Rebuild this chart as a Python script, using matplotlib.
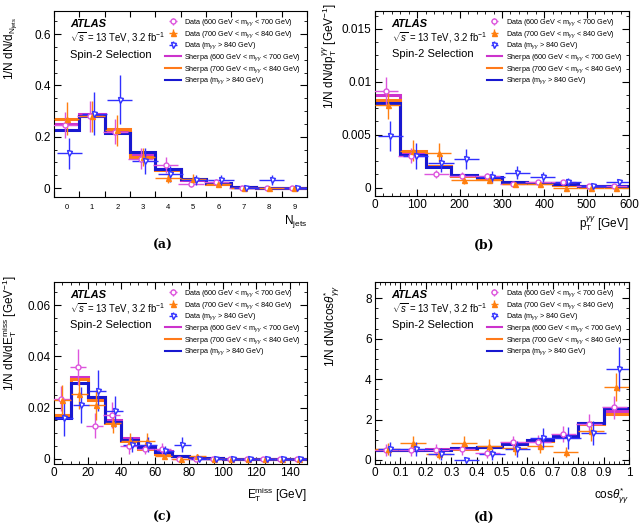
import numpy as np
import matplotlib
matplotlib.use("Agg")
import matplotlib.pyplot as plt
from matplotlib.lines import Line2D
from matplotlib.ticker import AutoMinorLocator, MultipleLocator, FixedLocator

plt.rcParams["font.family"] = ["Liberation Sans", "DejaVu Sans"]
plt.rcParams["mathtext.fontset"] = "custom"
plt.rcParams["mathtext.rm"] = "Liberation Sans"
plt.rcParams["mathtext.it"] = "Liberation Sans:italic"
plt.rcParams["mathtext.bf"] = "Liberation Sans:bold"

# ---- (a) N_jets ----
njets_edges = np.arange(-0.5, 10.0, 1.0)
njets_sherpa = {
    "m600": [0.25, 0.29, 0.22, 0.13, 0.075, 0.03, 0.015, 0.005, 0.002, 0.002],
    "m700": [0.27, 0.28, 0.23, 0.12, 0.07, 0.035, 0.015, 0.005, 0.002, 0.002],
    "m840": [0.225, 0.28, 0.215, 0.14, 0.075, 0.035, 0.02, 0.005, 0.002, 0.001],
}
njets_data = {
    "m600": [0.245, 0.28, 0.22, 0.115, 0.09, 0.015, 0.025, 0.0, 0.0, 0.0],
    "m700": [0.27, 0.28, 0.225, 0.12, 0.04, 0.035, 0.015, 0.0, 0.0, 0.0],
    "m840": [0.135, 0.29, 0.345, 0.105, 0.055, 0.03, 0.03, 0.0, 0.03, 0.0],
}
njets_err = {
    "m600": [0.05, 0.06, 0.05, 0.04, 0.03, 0.01, 0.01, 0.003, 0.003, 0.003],
    "m700": [0.065, 0.06, 0.06, 0.035, 0.02, 0.02, 0.01, 0.003, 0.003, 0.003],
    "m840": [0.06, 0.085, 0.095, 0.05, 0.03, 0.02, 0.02, 0.005, 0.02, 0.005],
}

# ---- (b) pT_gg ----
pt_edges = np.arange(0, 601, 60)
pt_sherpa = {
    "m600": [0.0088, 0.0032, 0.002, 0.0012, 0.0009, 0.0005, 0.0004, 0.0003, 0.0001, 0.0001],
    "m700": [0.0083, 0.0035, 0.002, 0.0011, 0.0008, 0.0005, 0.0004, 0.0002, 0.0001, 0.0001],
    "m840": [0.0080, 0.0031, 0.0019, 0.0012, 0.001, 0.0005, 0.0004, 0.0003, 0.0001, 0.0001],
}
pt_data = {
    "m600": [0.0091, 0.003, 0.0013, 0.0011, 0.0011, 0.0003, 0.0005, 0.0005, 0.0001, 0.0001],
    "m700": [0.0078, 0.0035, 0.0033, 0.0007, 0.0007, 0.0003, 0.0003, 0.0, 0.0, 0.0],
    "m840": [0.0049, 0.003, 0.0023, 0.0027, 0.001, 0.0014, 0.001, 0.0005, 0.0001, 0.0005],
}
pt_err = {
    "m600": [0.0014, 0.0007, 0.0004, 0.0004, 0.0003, 0.0002, 0.0002, 0.0002, 0.0001, 0.0001],
    "m700": [0.0013, 0.001, 0.0009, 0.0004, 0.0003, 0.0002, 0.0002, 0.0001, 0.0001, 0.0001],
    "m840": [0.0014, 0.0012, 0.0008, 0.0009, 0.0006, 0.0006, 0.0005, 0.0004, 0.0001, 0.0003],
}

# ---- (c) ETmiss ----
met_edges = np.arange(0, 151, 10)
met_sherpa = {
    "m600": [0.017, 0.032, 0.024, 0.015, 0.008, 0.005, 0.003, 0.001, 0.0005, 0.0002, 0.0001, 0.0001, 0.0, 0.0, 0.0],
    "m700": [0.017, 0.031, 0.023, 0.014, 0.007, 0.004, 0.002, 0.001, 0.0005, 0.0002, 0.0001, 0.0001, 0.0, 0.0, 0.0],
    "m840": [0.016, 0.0295, 0.024, 0.0145, 0.0075, 0.0045, 0.0025, 0.001, 0.0005, 0.0002, 0.0001, 0.0001, 0.0, 0.0, 0.0],
}
met_data = {
    "m600": [0.0235, 0.036, 0.013, 0.017, 0.005, 0.004, 0.004, 0.0, 0.0, 0.0, 0.0, 0.0, 0.0, 0.0, 0.0],
    "m700": [0.023, 0.0255, 0.021, 0.014, 0.007, 0.007, 0.001, 0.0, 0.001, 0.0, 0.0, 0.0, 0.0, 0.0, 0.0],
    "m840": [0.016, 0.021, 0.0265, 0.0185, 0.0055, 0.0055, 0.003, 0.0055, 0.0, 0.0, 0.0, 0.0, 0.0, 0.0, 0.0],
}
met_err = {
    "m600": [0.005, 0.007, 0.005, 0.005, 0.003, 0.002, 0.002, 0.0005, 0.0005, 0.0005, 0.0005, 0.0005, 0.0005, 0.0005, 0.0005],
    "m700": [0.006, 0.006, 0.006, 0.004, 0.003, 0.003, 0.001, 0.0005, 0.001, 0.0005, 0.0005, 0.0005, 0.0005, 0.0005, 0.0005],
    "m840": [0.007, 0.007, 0.008, 0.006, 0.003, 0.003, 0.002, 0.003, 0.0005, 0.0005, 0.0005, 0.0005, 0.0005, 0.0005, 0.0005],
}

# ---- (d) cos theta* ----
cos_edges = np.round(np.arange(0, 1.01, 0.1), 2)
cos_sherpa = {
    "m600": [0.5, 0.5, 0.55, 0.6, 0.65, 0.85, 1.0, 1.2, 1.85, 2.4],
    "m700": [0.5, 0.5, 0.5, 0.55, 0.65, 0.8, 0.95, 1.15, 1.8, 2.25],
    "m840": [0.5, 0.5, 0.5, 0.6, 0.65, 0.8, 1.0, 1.2, 1.85, 2.55],
}
cos_data = {
    "m600": [0.5, 0.5, 0.5, 0.55, 0.35, 0.9, 0.9, 1.3, 1.8, 2.6],
    "m700": [0.55, 0.85, 0.3, 0.85, 0.7, 0.6, 0.7, 0.4, 1.45, 3.6],
    "m840": [0.55, 0.55, 0.3, 0.0, 0.3, 0.55, 1.1, 1.1, 1.35, 4.5],
}
cos_err = {
    "m600": [0.3, 0.3, 0.3, 0.3, 0.25, 0.3, 0.35, 0.4, 0.45, 0.55],
    "m700": [0.3, 0.35, 0.25, 0.35, 0.35, 0.35, 0.35, 0.25, 0.5, 0.7],
    "m840": [0.35, 0.35, 0.3, 0.1, 0.3, 0.4, 0.5, 0.55, 0.6, 1.1],
}

keys = ["m600", "m700", "m840"]
data_col = {"m600": "#dd55dd", "m700": "#ff7f10", "m840": "#3030ff"}
mc_col = {"m600": "#cc33cc", "m700": "#ff7a1a", "m840": "#1818d0"}
markers = {"m600": "o", "m700": "^", "m840": "v"}
mfc = {"m600": "white", "m700": "#ff7f10", "m840": "white"}
offsets = {"m600": -0.08, "m700": 0.0, "m840": 0.1}
rng_txt = {"m600": "600 GeV < m$_{\\gamma\\gamma}$ < 700 GeV",
           "m700": "700 GeV < m$_{\\gamma\\gamma}$ < 840 GeV",
           "m840": "m$_{\\gamma\\gamma}$ > 840 GeV"}

fig = plt.figure(figsize=(6.42, 5.29), dpi=100)

W, H = 642.0, 529.0
def box(l, r, t, b):
    return [l / W, (H - b) / H, (r - l) / W, (b - t) / H]

panels = [
    dict(pos=box(54, 307, 11, 197), edges=njets_edges, mc=njets_sherpa, d=njets_data, e=njets_err,
         ylim=(-0.035, 0.69), ylabel="1/N dN/d$_{\\mathregular{N_{jets}}}$",
         xlabel="N$_{\\mathregular{jets}}$", cap="(a)", ymaj=0.2, xmaj=None, capxy=(163, 245),
         ylc=(-0.135, 0.97), xlc=-0.085),
    dict(pos=box(375, 629, 11, 196), edges=pt_edges, mc=pt_sherpa, d=pt_data, e=pt_err,
         ylim=(-0.0008, 0.0167), ylabel="1/N dN/dp$_{\\mathregular{T}}^{\\gamma\\gamma}$ [GeV$^{-1}$]",
         xlabel="p$_{\\mathregular{T}}^{\\gamma\\gamma}$ [GeV]", cap="(b)", ymaj=0.005, xmaj=100,
         capxy=(484, 245), ylc=(-0.14, 1.04), xlc=-0.1),
    dict(pos=box(54, 307, 282, 464), edges=met_edges, mc=met_sherpa, d=met_data, e=met_err,
         ylim=(-0.002, 0.069), ylabel="1/N dN/dE$_{\\mathregular{T}}^{\\mathregular{miss}}$ [GeV$^{-1}$]",
         xlabel="E$_{\\mathregular{T}}^{\\mathregular{miss}}$ [GeV]", cap="(c)", ymaj=0.02, xmaj=20,
         capxy=(163, 517), ylc=(-0.14, 1.04), xlc=-0.115),
    dict(pos=box(375, 629, 282, 464), edges=cos_edges, mc=cos_sherpa, d=cos_data, e=cos_err,
         ylim=(-0.2, 8.8), ylabel="1/N dN/dcos$\\theta^{*}_{\\gamma\\gamma}$",
         xlabel="cos$\\theta^{*}_{\\gamma\\gamma}$", cap="(d)", ymaj=2, xmaj=0.1,
         capxy=(484, 517), ylc=(-0.13, 0.98), xlc=-0.115),
]

for i, p in enumerate(panels):
    ax = fig.add_axes(p["pos"])
    edges = np.asarray(p["edges"], dtype=float)
    centers = 0.5 * (edges[:-1] + edges[1:])
    width = edges[1] - edges[0]

    handles_mc = []
    for k in keys:
        ax.stairs(p["mc"][k], edges, color=mc_col[k], lw=2.2, baseline=None, zorder=2)
        handles_mc.append(Line2D([], [], color=mc_col[k], lw=1.5))

    handles_d = []
    for k in keys:
        h = ax.errorbar(centers + offsets[k] * width, p["d"][k], yerr=p["e"][k], xerr=width / 2,
                        fmt=markers[k], color=data_col[k], mfc=mfc[k], mec=data_col[k],
                        ms=3.6, lw=1.0, capsize=0, zorder=3)
        handles_d.append(h)

    labels = ["Data (%s)" % rng_txt[k] for k in keys] + ["Sherpa (%s)" % rng_txt[k] for k in keys]
    ax.legend(handles_d + handles_mc, labels, loc="upper left", bbox_to_anchor=(0.415, 1.0),
              fontsize=5.2, frameon=False, handlelength=2.2, handletextpad=0.45,
              borderpad=0.35, labelspacing=0.12)

    ax.text(0.065, 0.93, "ATLAS", transform=ax.transAxes, fontsize=8,
            fontweight="bold", fontstyle="italic", va="center")
    ax.text(0.065, 0.855, "$\\sqrt{s}$ = 13 TeV, 3.2 fb$^{-1}$", transform=ax.transAxes,
            fontsize=6.9, va="center")
    ax.text(0.065, 0.765, "Spin-2 Selection", transform=ax.transAxes, fontsize=8, va="center")

    ax.set_xlim(edges[0], edges[-1])
    ax.set_ylim(*p["ylim"])
    ax.yaxis.set_major_locator(MultipleLocator(p["ymaj"]))
    ax.yaxis.set_minor_locator(AutoMinorLocator(4))

    if i == 0:
        ax.xaxis.set_major_locator(FixedLocator(edges))
        ax.xaxis.set_major_formatter(plt.NullFormatter())
        ax.set_xticks(centers, minor=True)
        ax.set_xticklabels([str(int(c)) for c in centers], minor=True, fontsize=5.5)
        ax.set_yticks([0, 0.2, 0.4, 0.6])
        ax.set_yticklabels(["0", "0.2", "0.4", "0.6"])
    else:
        ax.xaxis.set_major_locator(MultipleLocator(p["xmaj"]))
        ax.xaxis.set_minor_locator(AutoMinorLocator(5 if i != 2 else 4))
        if i == 1:
            ax.set_yticks([0, 0.005, 0.01, 0.015])
            ax.set_yticklabels(["0", "0.005", "0.01", "0.015"])
        elif i == 2:
            ax.set_yticks([0, 0.02, 0.04, 0.06])
            ax.set_yticklabels(["0", "0.02", "0.04", "0.06"])
        else:
            ax.set_xticks(np.round(np.arange(0, 1.01, 0.1), 1))
            ax.set_xticklabels(["0"] + ["%.1f" % v for v in np.arange(0.1, 0.95, 0.1)] + ["1"])

    ax.tick_params(which="both", direction="in", top=True, right=True, labelsize=8.5, pad=2.5)
    ax.tick_params(which="major", length=5)
    ax.tick_params(which="minor", length=2.5)
    if i == 0:
        ax.tick_params(axis="x", which="minor", length=0, labelsize=5.5, pad=5)
        ax.tick_params(axis="x", which="major", length=4)

    ax.set_ylabel(p["ylabel"], fontsize=8.5, ha="right")
    ax.yaxis.set_label_coords(*p["ylc"])
    ax.set_xlabel(p["xlabel"], fontsize=8.5, ha="right")
    ax.xaxis.set_label_coords(1.0, p["xlc"])

    fig.text(p["capxy"][0] / W, 1 - p["capxy"][1] / H, p["cap"], ha="center", va="center",
             fontsize=9, fontweight="bold", family="DejaVu Serif")

fig.savefig("out.png", dpi=100)
